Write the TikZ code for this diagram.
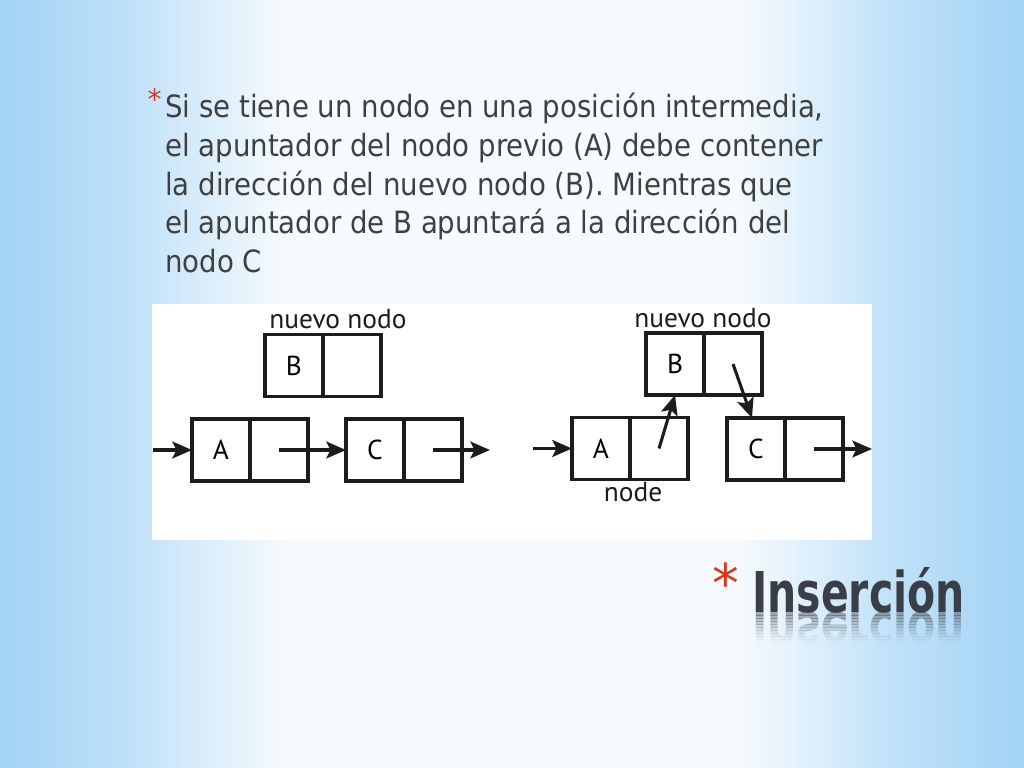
\documentclass[tikz,border=0pt]{standalone}
\usepackage{fontspec}
\setmainfont{DejaVu Sans Condensed}
\newfontfamily\diagfont{PT Sans}
\newfontfamily\starfont{DejaVu Sans}
\usetikzlibrary{positioning,arrows.meta}

\definecolor{bgblue}{HTML}{A2D3F5}
\definecolor{textgray}{HTML}{404040}
\definecolor{starred}{HTML}{D5391E}
\definecolor{titlegray}{HTML}{3A3E47}
\definecolor{inkblack}{HTML}{1C1C1C}
\pgfdeclarehorizontalshading{slidebg}{100bp}{color(0bp)=(bgblue); color(25bp)=(bgblue); color(31bp)=(bgblue!70!white); color(39bp)=(bgblue!10!white); color(61bp)=(bgblue!10!white); color(69bp)=(bgblue!70!white); color(75bp)=(bgblue); color(100bp)=(bgblue)}

\begin{document}
\begin{tikzpicture}[x=0.025cm,y=-0.025cm,
  cell/.style={draw=inkblack, line width=2.5pt, minimum width=1.45cm, minimum height=1.55cm,
    inner sep=0pt, outer sep=0pt, font=\diagfont\fontsize{19.5}{19.5}\selectfont},
  lbl/.style={font=\diagfont\fontsize{19.5}{19.5}\selectfont, text=inkblack, inner sep=0pt},
  link/.style={-{Stealth[length=14pt,width=12pt,inset=3pt]}, line width=2.2pt, draw=inkblack},
  body/.style={font=\fontsize{21.8}{21.8}\selectfont, text=textgray, anchor=base west, inner sep=0pt},
  bullet/.style={font=\starfont\fontsize{20}{20}\selectfont, text=starred, inner sep=0pt},
  ttlfont/.style={font=\bfseries\fontsize{40}{40}\selectfont, text=titlegray, anchor=base west,
    inner sep=0pt, xscale=0.81, transform shape}]
\useasboundingbox (0,0) rectangle (1024,768);
\shade[shading=slidebg] (0,0) rectangle (1024,768);

% texto
\node[bullet, anchor=base east] (b1) at (162,110) {*};
\node[body] (l1) at (165,118) {Si se tiene un nodo en una posición intermedia,};
\node[body] (l2) at (165,156.5) {el apuntador del nodo previo (A) debe contener};
\node[body] (l3) at (165,195) {la dirección del nuevo nodo (B). Mientras que};
\node[body] (l4) at (165,233.5) {el apuntador de B apuntará a la dirección del};
\node[body] (l5) at (165,272) {nodo C};

% figura
\fill[white] (152,304) rectangle (872,540);

% antes
\node[cell] (b) at (294,365.5) {B};
\node[cell, right=0pt of b] (bp) {};
\node[cell] (a) at (221,450) {A};
\node[cell, right=0pt of a] (ap) {};
\node[cell] (c) at (375,450) {C};
\node[cell, right=0pt of c] (cp) {};
\node[lbl, anchor=base] (newl) at (338,328) {nuevo nodo};
\coordinate (inl) at (153,450);
\coordinate (outl) at (490,450);
\draw[link] (inl) -- (a);
\draw[link] (ap.center) -- (c);
\draw[link] (cp.center) -- (outl);

% despues
\node[cell] (b2) at (675,364) {B};
\node[cell, right=0pt of b2] (bp2) {};
\node[cell] (a2) at (601,448.5) {A};
\node[cell, right=0pt of a2] (ap2) {};
\node[cell] (c2) at (756,449) {C};
\node[cell, right=0pt of c2] (cp2) {};
\node[lbl, anchor=base] (newr) at (703,327) {nuevo nodo};
\node[lbl, anchor=base] (nodel) at (633,501.5) {node};
\coordinate (inr) at (533,448.5);
\coordinate (outr) at (872,449);
\draw[link] (inr) -- (a2);
\draw[link] (ap2.center) -- (b2.south);
\draw[link] (bp2.center) -- ([xshift=-0.1cm]c2.north);
\draw[link] (cp2.center) -- (outr);

% titulo
\node[bullet, font=\starfont\fontsize{38}{38}\selectfont, anchor=base east] (tb) at (739,602) {*};
\node[ttlfont] (ttl) at (752,612) {Inserción};
\foreach \i/\o in {0/0.42,1/0.36,2/0.30,3/0.25,4/0.20,5/0.15,6/0.11,7/0.07,8/0.04,9/0.02} {
  \begin{scope}
    \clip (740,612+3*\i) rectangle (990,615+3*\i);
    \node[ttlfont, text opacity=\o, yscale=-1] at (752,612) {Inserción};
  \end{scope}
}
\end{tikzpicture}
\end{document}
